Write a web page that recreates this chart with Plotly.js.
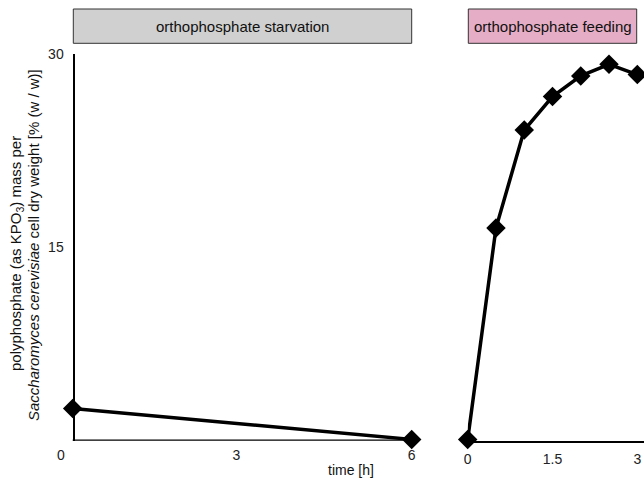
<!DOCTYPE html>
<html>
<head>
<meta charset="utf-8">
<script src="https://cdn.plot.ly/plotly-3.0.1.min.js"></script>
<style>html,body{margin:0;padding:0;background:#fff;}</style>
</head>
<body>
<div id="chart" style="width:644px;height:481px;"></div>
<script>
// Data
const starvTime = [0.2, 6];
const starvValue = [2.5, 0.1];
const feedTime = [0, 0.5, 1, 1.5, 2, 2.5, 3];
const feedValue = [0.1, 16.5, 24.1, 26.7, 28.3, 29.2, 28.4];
const panelLabels = ["orthophosphate starvation", "orthophosphate feeding"];
const stripColors = ["#d0d0d0", "#e6aec6"];
const leftTicks = [0, 3, 6];
const rightTicks = [0, 1.5, 3];
const rightTickText = ["0", "1.5", "3"];
const yTicks = [15, 30];
const yTitleLines = ["polyphosphate (as KPO<sub>3</sub>) mass per",
                     "<i>Saccharomyces cerevisiae</i> cell dry weight [% (w / w)]"];
const xTitle = "time [h]";

const W = 644, H = 481;
const px = v => v / W;
const py = v => (H - v) / H;
const FAM = "Liberation Sans, Arial, sans-serif";

const tickFont = {family: FAM, size: 14, color: "#222"};
const lineStyle = {color: "#000", width: 3.5};
const markerStyle = {symbol: "diamond", size: 15, color: "#000"};

const traces = [
  {x: starvTime, y: starvValue, xaxis: "x", yaxis: "y", mode: "lines+markers",
   line: lineStyle, marker: markerStyle, cliponaxis: false, hoverinfo: "skip"},
  {x: feedTime, y: feedValue, xaxis: "x2", yaxis: "y2", mode: "lines+markers",
   line: lineStyle, marker: markerStyle, cliponaxis: false, hoverinfo: "skip"}
];

const yDom = [py(440.7), py(54)];

const layout = {
  width: W, height: H,
  margin: {l: 0, r: 0, t: 0, b: 0},
  paper_bgcolor: "#fff", plot_bgcolor: "rgba(0,0,0,0)",
  showlegend: false,
  font: {family: FAM, color: "#222"},
  xaxis: {domain: [px(61), px(411.7)], range: [0, 6], tickvals: leftTicks,
          showgrid: false, zeroline: false, showline: false, ticks: "",
          tickfont: tickFont, anchor: "y", fixedrange: true, ticklabelstandoff: 4},
  xaxis2: {domain: [px(467.7), 1], range: [0, 3 + (644 - 637.3) / ((637.3 - 467.7) / 3)],
           tickvals: rightTicks, ticktext: rightTickText,
           showgrid: false, zeroline: false, showline: true, linecolor: "#000", linewidth: 2.5,
           ticks: "", tickfont: tickFont, anchor: "y2", fixedrange: true, ticklabelstandoff: 4},
  yaxis: {domain: yDom, range: [0, 30], tickvals: yTicks, anchor: "free", position: px(73.5),
          showgrid: false, zeroline: false, showline: true, linecolor: "#000", linewidth: 2.5,
          ticks: "", tickfont: tickFont, fixedrange: true, ticklabelstandoff: 6},
  yaxis2: {domain: yDom, range: [0, 30], anchor: "x2", showgrid: false, zeroline: false,
           showline: false, showticklabels: false, ticks: "", fixedrange: true},
  shapes: [
    {type: "line", xref: "x", yref: "y", x0: 0.2, x1: 6.02, y0: 0, y1: 0,
     line: {color: "#000", width: 2.5}},
    {type: "rect", xref: "paper", yref: "paper", x0: px(73.3), x1: px(411.7), y0: py(43.3), y1: py(9),
     fillcolor: stripColors[0], line: {color: "#333", width: 1}},
    {type: "rect", xref: "paper", yref: "paper", x0: px(468.3), x1: px(636.7), y0: py(43.3), y1: py(9),
     fillcolor: stripColors[1], line: {color: "#333", width: 1}}
  ],
  annotations: [
    {text: panelLabels[0], xref: "paper", yref: "paper", x: px(242.5), y: py(26),
     showarrow: false, xanchor: "center", yanchor: "middle",
     font: {family: FAM, size: 15, color: "#111"}},
    {text: panelLabels[1], xref: "paper", yref: "paper", x: px(552.5), y: py(26),
     showarrow: false, xanchor: "center", yanchor: "middle",
     font: {family: FAM, size: 15, color: "#111"}},
    {text: xTitle, xref: "paper", yref: "paper", x: px(351), y: py(470),
     showarrow: false, xanchor: "center", yanchor: "middle",
     font: {family: FAM, size: 14, color: "#111"}},
    {text: yTitleLines[0], xref: "paper", yref: "paper", x: px(17), y: py(254), textangle: -90,
     showarrow: false, xanchor: "center", yanchor: "middle",
     font: {family: FAM, size: 15, color: "#111"}},
    {text: yTitleLines[1], xref: "paper", yref: "paper", x: px(33), y: py(245), textangle: -90,
     showarrow: false, xanchor: "center", yanchor: "middle",
     font: {family: FAM, size: 15, color: "#111"}}
  ]
};

Plotly.newPlot("chart", traces, layout, {displayModeBar: false, staticPlot: true});
</script>
</body>
</html>
